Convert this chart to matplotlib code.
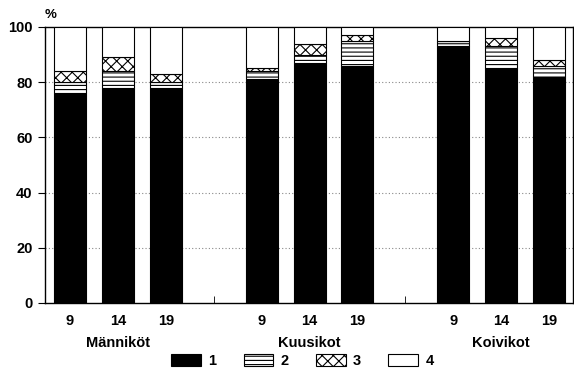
import matplotlib
matplotlib.use("Agg")
import matplotlib.pyplot as plt
from matplotlib.patches import Patch

plt.rcParams['font.family'] = ['Liberation Sans', 'DejaVu Sans']
plt.rcParams['font.weight'] = 'bold'
plt.rcParams['hatch.linewidth'] = 0.8

groups = ["Männiköt", "Kuusikot", "Koivikot"]
ages = ["9", "14", "19"]
series_names = ["1", "2", "3", "4"]
s1 = [76, 78, 78, 81, 87, 86, 93, 85, 82]
s2 = [4, 6, 2, 3, 3, 9, 2, 8, 4]
s3 = [4, 5, 3, 1, 4, 2, 0, 3, 2]
s4 = [16, 11, 17, 15, 6, 3, 5, 4, 12]
y_ticks = [0, 20, 40, 60, 80, 100]

pos = []
for g in range(len(groups)):
    for a in range(len(ages)):
        pos.append(g * 4 + a)

fig = plt.figure(figsize=(5.74, 3.71), dpi=100)
ax = fig.add_axes([0.0784, 0.1833, 0.92, 0.744])

styles = [dict(color='black', edgecolor='black', hatch=None),
          dict(color='white', edgecolor='black', hatch='----'),
          dict(color='white', edgecolor='black', hatch='xxx'),
          dict(color='white', edgecolor='black', hatch=None)]
bottom = [0] * len(pos)
for vals, st in zip([s1, s2, s3, s4], styles):
    ax.bar(pos, vals, width=0.667, bottom=bottom, color=st['color'],
           edgecolor=st['edgecolor'], hatch=st['hatch'], linewidth=0.8, zorder=3)
    bottom = [b + v for b, v in zip(bottom, vals)]

ax.set_xlim(-0.52, 10.5)
ax.set_ylim(0, 100)
ax.set_yticks(y_ticks)
ax.set_yticklabels([str(v) for v in y_ticks], fontsize=10.5, fontweight='bold')
for yv in y_ticks[1:-1]:
    ax.axhline(yv, color='#888888', linestyle=(0, (1, 2)), linewidth=0.8, zorder=1)

ax.set_xticks(pos)
ax.set_xticklabels(ages * len(groups), fontsize=10.5, fontweight='bold')
ax.tick_params(axis='x', which='major', length=0, pad=8)
ax.set_xticks([3, 7], minor=True)
ax.tick_params(axis='x', which='minor', direction='in', length=5)
ax.tick_params(axis='y', direction='out', length=5, pad=4)

for sp in ax.spines.values():
    sp.set_linewidth(1.0)

for g, name in enumerate(groups):
    ax.text(g * 4 + 1, -14.5, name, ha='center', va='center', fontsize=10.5,
            fontweight='bold', transform=ax.transData, clip_on=False)

ax.text(-0.52, 104.5, "%", ha='left', va='center', fontsize=9.5, fontweight='bold')

handles = [Patch(facecolor=st['color'], edgecolor='black', hatch=st['hatch'], linewidth=0.8)
           for st in styles]
fig.legend(handles, series_names, loc='center', bbox_to_anchor=(0.527, 0.027),
           ncol=4, frameon=False, fontsize=10.5, handlelength=2.05, handleheight=0.82,
           columnspacing=1.85, handletextpad=0.5, borderpad=0, borderaxespad=0)

fig.savefig("out.png", dpi=100)
